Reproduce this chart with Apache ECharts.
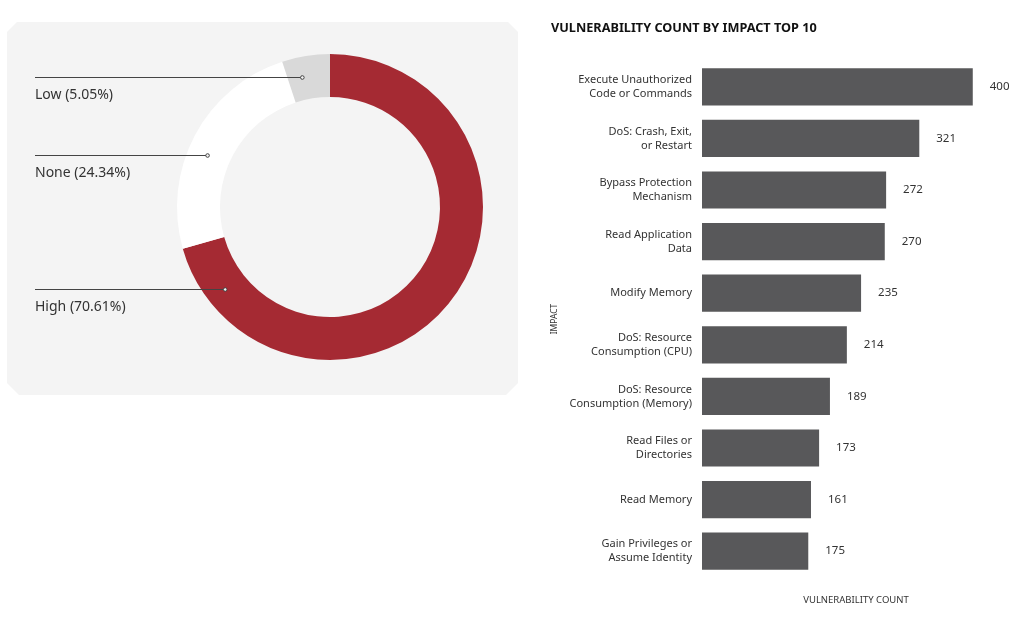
<!DOCTYPE html>
<html>
<head>
<meta charset="utf-8">
<title>Vulnerability impact</title>
<script src="https://cdn.jsdelivr.net/npm/echarts@6/dist/echarts.min.js"></script>
<style>
  html, body { margin: 0; padding: 0; background: #fff; }
  #main { width: 1024px; height: 619px; }
</style>
</head>
<body>
<div id="main"></div>
<script>
// donut data
var severityNames = ['High', 'None', 'Low'];
var severityShares = [70.61, 24.34, 5.05];
var severityColors = ['#a52a33', '#ffffff', '#d9d9d9'];
// where each label line touches the ring (degrees clockwise from 12 o'clock)
var labelAngles = [232, 293, 348];
var labelLineY = [289, 155, 77];

// bar data
var impactNames = [
  'Execute Unauthorized\nCode or Commands',
  'DoS: Crash, Exit,\nor Restart',
  'Bypass Protection\nMechanism',
  'Read Application\nData',
  'Modify Memory',
  'DoS: Resource\nConsumption (CPU)',
  'DoS: Resource\nConsumption (Memory)',
  'Read Files or\nDirectories',
  'Read Memory',
  'Gain Privileges or\nAssume Identity'
];
var barValues = [400, 321, 272, 270, 235, 214, 189, 173, 161, 157];
var countLabels = [400, 321, 272, 270, 235, 214, 189, 173, 161, 175];

var FONT = '"Noto Sans", sans-serif';
var CX = 330, CY = 207, R_IN = 110, R_OUT = 153, R_MID = 133, LABEL_X = 35;

function ringPoint(i) {
  var a = labelAngles[i] * Math.PI / 180;
  return [CX + R_MID * Math.sin(a), CY - R_MID * Math.cos(a)];
}

// leader lines + end dots for the donut labels
var leaders = [];
severityNames.forEach(function (n, i) {
  var p = ringPoint(i);
  var y = labelLineY[i] + 0.5;
  leaders.push({
    type: 'line',
    z: 100,
    shape: { x1: LABEL_X, y1: y, x2: p[0], y2: y },
    style: { stroke: '#444', lineWidth: 1 }
  });
  leaders.push({
    type: 'circle',
    z: 101,
    shape: { cx: p[0], cy: y, r: 1.8 },
    style: { fill: '#f4f4f4', stroke: '#444', lineWidth: 1 }
  });
});

var myChart = echarts.init(document.getElementById('main'));

var option = {
  backgroundColor: '#fff',
  animation: false,
  textStyle: { fontFamily: FONT },
  title: {
    text: 'VULNERABILITY COUNT BY IMPACT TOP 10',
    left: 551,
    top: 22,
    padding: 0,
    textStyle: { fontFamily: FONT, fontSize: 12.7, fontWeight: 'bold', color: '#111' }
  },
  graphic: [{
    type: 'polygon',
    z: -10,
    shape: {
      points: [[17, 22], [508, 22], [518, 32], [518, 383], [506, 395],
               [19, 395], [7, 383], [7, 32]]
    },
    style: { fill: '#f4f4f4' }
  }].concat(leaders),
  grid: { left: 702, top: 61, right: 14, height: 516 },
  xAxis: {
    type: 'value',
    min: 0,
    max: 455,
    splitLine: { show: false },
    axisLine: { show: false },
    axisTick: { show: false },
    axisLabel: { show: false },
    name: 'VULNERABILITY COUNT',
    nameLocation: 'middle',
    nameGap: 18,
    nameTextStyle: { fontFamily: FONT, fontSize: 9.5, color: '#333' }
  },
  yAxis: {
    type: 'category',
    inverse: true,
    data: impactNames,
    axisLine: { show: false },
    axisTick: { show: false },
    axisLabel: { margin: 10, fontSize: 11, lineHeight: 14, color: '#333', align: 'right' },
    name: 'IMPACT',
    nameLocation: 'middle',
    nameRotate: 90,
    nameGap: 143,
    nameTextStyle: { fontFamily: FONT, fontSize: 8.5, color: '#333' }
  },
  series: [
    {
      type: 'pie',
      center: [CX, CY],
      radius: [R_IN, R_OUT],
      startAngle: 90,
      clockwise: true,
      silent: true,
      data: severityNames.map(function (n, i) {
        return { name: n, value: severityShares[i], itemStyle: { color: severityColors[i] } };
      }),
      label: {
        show: true,
        position: 'outside',
        formatter: function (p) { return p.name + ' (' + severityShares[p.dataIndex].toFixed(2) + '%)'; },
        fontFamily: FONT,
        fontSize: 14,
        color: '#333'
      },
      labelLine: { show: false },
      labelLayout: function (params) {
        var i = params.dataIndex;
        return {
          x: LABEL_X,
          y: labelLineY[i] + 11,
          align: 'left',
          verticalAlign: 'top'
        };
      }
    },
    {
      type: 'bar',
      data: barValues,
      barCategoryGap: '28%',
      itemStyle: { color: '#58585a' },
      label: {
        show: true,
        position: 'right',
        distance: 17,
        fontSize: 11.5,
        color: '#333',
        formatter: function (p) { return countLabels[p.dataIndex]; }
      }
    }
  ]
};

myChart.setOption(option);
</script>
</body>
</html>
